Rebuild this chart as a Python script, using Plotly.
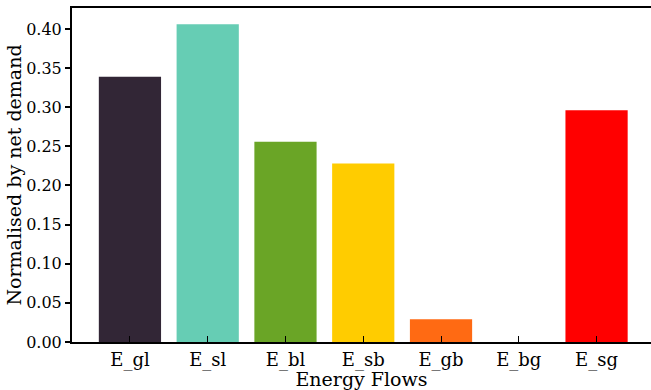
import plotly.graph_objects as go

flows = ["E_gl", "E_sl", "E_bl", "E_sb", "E_gb", "E_bg", "E_sg"]
normalised = [0.339, 0.406, 0.256, 0.228, 0.029, 0.0, 0.296]
colours = ["#322636", "#66CDB4", "#6AA526", "#FFCC00", "#FF6A13", "#1F77B4", "#FF0000"]
y_ticks = [0.00, 0.05, 0.10, 0.15, 0.20, 0.25, 0.30, 0.35, 0.40]

font = "DejaVu Serif"

fig = go.Figure(
    go.Bar(
        x=list(range(len(flows))),
        y=normalised,
        width=0.8,
        marker=dict(color=colours, line=dict(width=0)),
    )
)

fig.update_layout(
    width=651,
    height=390,
    margin=dict(l=72, r=0, t=8, b=48),
    paper_bgcolor="white",
    plot_bgcolor="white",
    showlegend=False,
    font=dict(family=font, size=18, color="black"),
)

fig.update_xaxes(
    range=[-0.745, 6.70],
    tickvals=list(range(len(flows))),
    ticktext=flows,
    ticks="inside",
    ticklen=6,
    tickwidth=1,
    tickcolor="black",
    showline=True,
    linecolor="black",
    linewidth=2,
    mirror=True,
    showgrid=False,
    zeroline=False,
    tickfont=dict(family=font, size=18),
    title=dict(text="Energy Flows", font=dict(family=font, size=19), standoff=0),
)

fig.update_yaxes(
    range=[0, 0.4268],
    tickvals=y_ticks,
    ticktext=[f"{v:.2f}" for v in y_ticks],
    ticks="outside",
    ticklen=5,
    tickwidth=1.5,
    tickcolor="black",
    showline=True,
    linecolor="black",
    linewidth=2,
    showgrid=False,
    zeroline=False,
    tickfont=dict(family=font, size=16),
    title=dict(text="Normalised by net demand", font=dict(family=font, size=19), standoff=0),
)

fig.write_html("out.html")
